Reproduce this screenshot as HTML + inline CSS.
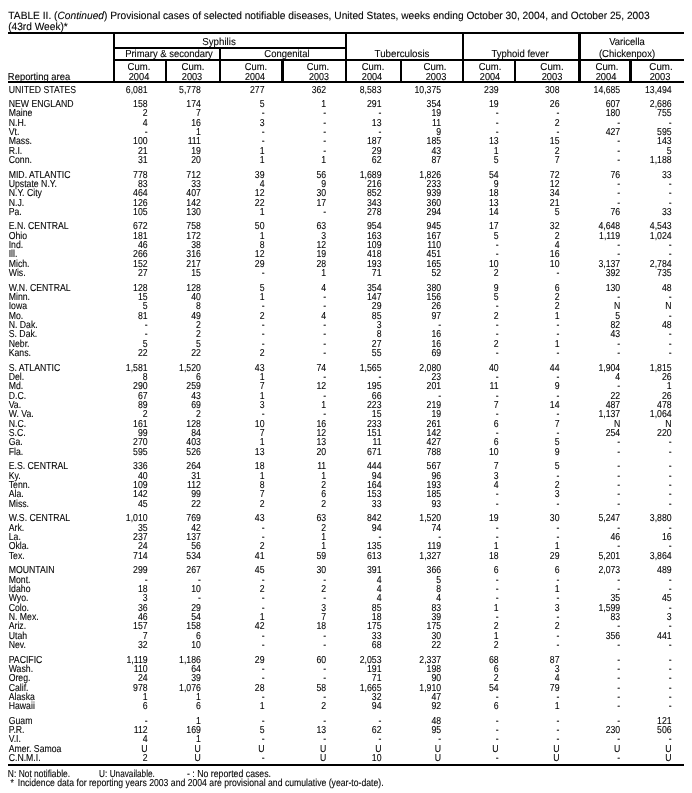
<!DOCTYPE html>
<html lang="en">
<head>
<meta charset="utf-8">
<title>TABLE II. (Continued) Provisional cases of selected notifiable diseases, United States</title>
<style>
html,body{margin:0;padding:0;background:#fff;}
body{width:692px;height:793px;position:relative;overflow:hidden;color:#000;
 font-family:"Liberation Sans",Arial,Helvetica,sans-serif;font-size:10.15px;line-height:11px;
 -webkit-text-stroke:0.1px #000;text-rendering:geometricPrecision;}
div{position:absolute;white-space:nowrap;}
.l{background:#000;}
.h{height:11px;transform:translateX(-50%) scaleX(0.936);}
.r{left:0;width:804.65px;height:11px;transform-origin:0 0;transform:scaleX(0.86);}
.r b{font-weight:normal;position:absolute;left:10.12px;top:0;}
.r i{font-style:normal;position:absolute;top:0;text-align:right;}

.c1{right:633.02px;}
.c2{right:571.05px;}
.c3{right:497.03px;}
.c4{right:425.35px;}
.c5{right:361.05px;}
.c6{right:291.74px;}
.c7{right:224.88px;}
.c8{right:154.07px;}
.c9{right:83.49px;}
.c10{right:23.66px;}
</style>
</head>
<body>
<div class="h" style="font-size:10.5px;left:329.04px;top:11px;transform:translateX(-50%) scaleX(0.9717)">TABLE II. (<em>Continued</em>) Provisional cases of selected notifiable diseases, United States, weeks ending October 30, 2004, and October 25, 2003</div>
<div class="h" style="font-size:10.5px;left:37.81px;top:22px;transform:translateX(-50%) scaleX(0.9675)">(43rd Week)*</div>
<div class="l" style="left:8px;width:676px;top:32px;height:2px"></div>
<div class="l" style="left:8px;width:676px;top:81px;height:2px"></div>
<div class="l" style="left:8px;width:676px;top:764px;height:2px"></div>
<div class="l" style="left:113px;width:233px;top:47px;height:2px"></div>
<div class="l" style="left:113px;width:571px;top:59px;height:2px"></div>
<div class="l" style="left:113px;width:2px;top:32px;height:51px"></div>
<div class="l" style="left:165px;width:2px;top:60px;height:23px"></div>
<div class="l" style="left:219px;width:2px;top:48px;height:35px"></div>
<div class="l" style="left:281px;width:3px;top:60px;height:23px"></div>
<div class="l" style="left:345px;width:2px;top:32px;height:51px"></div>
<div class="l" style="left:400px;width:2px;top:60px;height:23px"></div>
<div class="l" style="left:462px;width:2px;top:32px;height:51px"></div>
<div class="l" style="left:514px;width:2px;top:60px;height:23px"></div>
<div class="l" style="left:578px;width:3px;top:32px;height:51px"></div>
<div class="l" style="left:629px;width:3px;top:60px;height:23px"></div>
<div class="h" style="left:219.46px;top:37px;transform:translateX(-50%) scaleX(0.9603)">Syphilis</div>
<div class="h" style="left:169.43px;top:49px;transform:translateX(-50%) scaleX(0.9333)">Primary &amp; secondary</div>
<div class="h" style="left:287.07px;top:49px;transform:translateX(-50%) scaleX(0.9347)">Congenital</div>
<div class="h" style="left:402.3px;top:49px;transform:translateX(-50%) scaleX(0.9615)">Tuberculosis</div>
<div class="h" style="left:520.38px;top:49px;transform:translateX(-50%) scaleX(0.9404)">Typhoid fever</div>
<div class="h" style="left:626.74px;top:37px;transform:translateX(-50%) scaleX(0.9369)">Varicella</div>
<div class="h" style="left:627.06px;top:49px;transform:translateX(-50%) scaleX(0.9423)">(Chickenpox)</div>
<div class="h" style="left:138.6px;top:62px;transform:translateX(-50%) scaleX(0.9408)">Cum.</div>
<div class="h" style="left:138.6px;top:72px;transform:translateX(-50%) scaleX(0.9117)">2004</div>
<div class="h" style="left:192.69px;top:62px;transform:translateX(-50%) scaleX(0.9488)">Cum.</div>
<div class="h" style="left:192.42px;top:72px;transform:translateX(-50%) scaleX(0.9086)">2003</div>
<div class="h" style="left:255.67px;top:62px;transform:translateX(-50%) scaleX(0.9201)">Cum.</div>
<div class="h" style="left:255.42px;top:72px;transform:translateX(-50%) scaleX(0.8789)">2004</div>
<div class="h" style="left:318.47px;top:62px;transform:translateX(-50%) scaleX(0.9201)">Cum.</div>
<div class="h" style="left:318.52px;top:72px;transform:translateX(-50%) scaleX(0.8795)">2003</div>
<div class="h" style="left:372.62px;top:62px;transform:translateX(-50%) scaleX(0.9335)">Cum.</div>
<div class="h" style="left:372.31px;top:72px;transform:translateX(-50%) scaleX(0.9)">2004</div>
<div class="h" style="left:435.24px;top:62px;transform:translateX(-50%) scaleX(0.9533)">Cum.</div>
<div class="h" style="left:435.54px;top:72px;transform:translateX(-50%) scaleX(0.9161)">2003</div>
<div class="h" style="left:489.62px;top:62px;transform:translateX(-50%) scaleX(0.9335)">Cum.</div>
<div class="h" style="left:489.51px;top:72px;transform:translateX(-50%) scaleX(0.9)">2004</div>
<div class="h" style="left:552.49px;top:62px;transform:translateX(-50%) scaleX(0.9612)">Cum.</div>
<div class="h" style="left:552.27px;top:72px;transform:translateX(-50%) scaleX(0.9187)">2003</div>
<div class="h" style="left:606.69px;top:62px;transform:translateX(-50%) scaleX(0.9488)">Cum.</div>
<div class="h" style="left:606.21px;top:72px;transform:translateX(-50%) scaleX(0.9204)">2004</div>
<div class="h" style="left:660.69px;top:62px;transform:translateX(-50%) scaleX(0.9612)">Cum.</div>
<div class="h" style="left:660.27px;top:72px;transform:translateX(-50%) scaleX(0.9187)">2003</div>
<div class="h" style="left:38.66px;top:72px;transform:translateX(-50%) scaleX(0.9297)">Reporting area</div>
<div class="h" style="left:39.37px;top:769px;transform:translateX(-50%) scaleX(0.8318)">N: Not notifiable.</div>
<div class="h" style="left:126.64px;top:769px;transform:translateX(-50%) scaleX(0.8119)">U: Unavailable.</div>
<div class="h" style="left:229.12px;top:769px;transform:translateX(-50%) scaleX(0.8634)">- : No reported cases.</div>
<div class="h" style="left:196.6px;top:778px;transform:translateX(-50%) scaleX(0.8552)"><span style="word-spacing:1.8px">* </span>Incidence data for reporting years 2003 and 2004 are provisional and cumulative (year-to-date).</div>
<div class="r" style="top:85px"><b>UNITED STATES</b><i class="c1">6,081</i><i class="c2">5,778</i><i class="c3">277</i><i class="c4">362</i><i class="c5">8,583</i><i class="c6">10,375</i><i class="c7">239</i><i class="c8">308</i><i class="c9">14,685</i><i class="c10">13,494</i></div>
<div class="r" style="top:99px"><b>NEW ENGLAND</b><i class="c1">158</i><i class="c2">174</i><i class="c3">5</i><i class="c4">1</i><i class="c5">291</i><i class="c6">354</i><i class="c7">19</i><i class="c8">26</i><i class="c9">607</i><i class="c10">2,686</i></div>
<div class="r" style="top:108px"><b>Maine</b><i class="c1">2</i><i class="c2">7</i><i class="c3">-</i><i class="c4">-</i><i class="c5">-</i><i class="c6">19</i><i class="c7">-</i><i class="c8">-</i><i class="c9">180</i><i class="c10">755</i></div>
<div class="r" style="top:118px"><b>N.H.</b><i class="c1">4</i><i class="c2">16</i><i class="c3">3</i><i class="c4">-</i><i class="c5">13</i><i class="c6">11</i><i class="c7">-</i><i class="c8">2</i><i class="c9">-</i><i class="c10">-</i></div>
<div class="r" style="top:127px"><b>Vt.</b><i class="c1">-</i><i class="c2">1</i><i class="c3">-</i><i class="c4">-</i><i class="c5">-</i><i class="c6">9</i><i class="c7">-</i><i class="c8">-</i><i class="c9">427</i><i class="c10">595</i></div>
<div class="r" style="top:136px"><b>Mass.</b><i class="c1">100</i><i class="c2">111</i><i class="c3">-</i><i class="c4">-</i><i class="c5">187</i><i class="c6">185</i><i class="c7">13</i><i class="c8">15</i><i class="c9">-</i><i class="c10">143</i></div>
<div class="r" style="top:146px"><b>R.I.</b><i class="c1">21</i><i class="c2">19</i><i class="c3">1</i><i class="c4">-</i><i class="c5">29</i><i class="c6">43</i><i class="c7">1</i><i class="c8">2</i><i class="c9">-</i><i class="c10">5</i></div>
<div class="r" style="top:155px"><b>Conn.</b><i class="c1">31</i><i class="c2">20</i><i class="c3">1</i><i class="c4">1</i><i class="c5">62</i><i class="c6">87</i><i class="c7">5</i><i class="c8">7</i><i class="c9">-</i><i class="c10">1,188</i></div>
<div class="r" style="top:170px"><b>MID. ATLANTIC</b><i class="c1">778</i><i class="c2">712</i><i class="c3">39</i><i class="c4">56</i><i class="c5">1,689</i><i class="c6">1,826</i><i class="c7">54</i><i class="c8">72</i><i class="c9">76</i><i class="c10">33</i></div>
<div class="r" style="top:179px"><b>Upstate N.Y.</b><i class="c1">83</i><i class="c2">33</i><i class="c3">4</i><i class="c4">9</i><i class="c5">216</i><i class="c6">233</i><i class="c7">9</i><i class="c8">12</i><i class="c9">-</i><i class="c10">-</i></div>
<div class="r" style="top:188px"><b>N.Y. City</b><i class="c1">464</i><i class="c2">407</i><i class="c3">12</i><i class="c4">30</i><i class="c5">852</i><i class="c6">939</i><i class="c7">18</i><i class="c8">34</i><i class="c9">-</i><i class="c10">-</i></div>
<div class="r" style="top:198px"><b>N.J.</b><i class="c1">126</i><i class="c2">142</i><i class="c3">22</i><i class="c4">17</i><i class="c5">343</i><i class="c6">360</i><i class="c7">13</i><i class="c8">21</i><i class="c9">-</i><i class="c10">-</i></div>
<div class="r" style="top:207px"><b>Pa.</b><i class="c1">105</i><i class="c2">130</i><i class="c3">1</i><i class="c4">-</i><i class="c5">278</i><i class="c6">294</i><i class="c7">14</i><i class="c8">5</i><i class="c9">76</i><i class="c10">33</i></div>
<div class="r" style="top:221px"><b>E.N. CENTRAL</b><i class="c1">672</i><i class="c2">758</i><i class="c3">50</i><i class="c4">63</i><i class="c5">954</i><i class="c6">945</i><i class="c7">17</i><i class="c8">32</i><i class="c9">4,648</i><i class="c10">4,543</i></div>
<div class="r" style="top:231px"><b>Ohio</b><i class="c1">181</i><i class="c2">172</i><i class="c3">1</i><i class="c4">3</i><i class="c5">163</i><i class="c6">167</i><i class="c7">5</i><i class="c8">2</i><i class="c9">1,119</i><i class="c10">1,024</i></div>
<div class="r" style="top:240px"><b>Ind.</b><i class="c1">46</i><i class="c2">38</i><i class="c3">8</i><i class="c4">12</i><i class="c5">109</i><i class="c6">110</i><i class="c7">-</i><i class="c8">4</i><i class="c9">-</i><i class="c10">-</i></div>
<div class="r" style="top:249px"><b>Ill.</b><i class="c1">266</i><i class="c2">316</i><i class="c3">12</i><i class="c4">19</i><i class="c5">418</i><i class="c6">451</i><i class="c7">-</i><i class="c8">16</i><i class="c9">-</i><i class="c10">-</i></div>
<div class="r" style="top:259px"><b>Mich.</b><i class="c1">152</i><i class="c2">217</i><i class="c3">29</i><i class="c4">28</i><i class="c5">193</i><i class="c6">165</i><i class="c7">10</i><i class="c8">10</i><i class="c9">3,137</i><i class="c10">2,784</i></div>
<div class="r" style="top:268px"><b>Wis.</b><i class="c1">27</i><i class="c2">15</i><i class="c3">-</i><i class="c4">1</i><i class="c5">71</i><i class="c6">52</i><i class="c7">2</i><i class="c8">-</i><i class="c9">392</i><i class="c10">735</i></div>
<div class="r" style="top:283px"><b>W.N. CENTRAL</b><i class="c1">128</i><i class="c2">128</i><i class="c3">5</i><i class="c4">4</i><i class="c5">354</i><i class="c6">380</i><i class="c7">9</i><i class="c8">6</i><i class="c9">130</i><i class="c10">48</i></div>
<div class="r" style="top:292px"><b>Minn.</b><i class="c1">15</i><i class="c2">40</i><i class="c3">1</i><i class="c4">-</i><i class="c5">147</i><i class="c6">156</i><i class="c7">5</i><i class="c8">2</i><i class="c9">-</i><i class="c10">-</i></div>
<div class="r" style="top:301px"><b>Iowa</b><i class="c1">5</i><i class="c2">8</i><i class="c3">-</i><i class="c4">-</i><i class="c5">29</i><i class="c6">26</i><i class="c7">-</i><i class="c8">2</i><i class="c9">N</i><i class="c10">N</i></div>
<div class="r" style="top:311px"><b>Mo.</b><i class="c1">81</i><i class="c2">49</i><i class="c3">2</i><i class="c4">4</i><i class="c5">85</i><i class="c6">97</i><i class="c7">2</i><i class="c8">1</i><i class="c9">5</i><i class="c10">-</i></div>
<div class="r" style="top:320px"><b>N. Dak.</b><i class="c1">-</i><i class="c2">2</i><i class="c3">-</i><i class="c4">-</i><i class="c5">3</i><i class="c6">-</i><i class="c7">-</i><i class="c8">-</i><i class="c9">82</i><i class="c10">48</i></div>
<div class="r" style="top:329px"><b>S. Dak.</b><i class="c1">-</i><i class="c2">2</i><i class="c3">-</i><i class="c4">-</i><i class="c5">8</i><i class="c6">16</i><i class="c7">-</i><i class="c8">-</i><i class="c9">43</i><i class="c10">-</i></div>
<div class="r" style="top:339px"><b>Nebr.</b><i class="c1">5</i><i class="c2">5</i><i class="c3">-</i><i class="c4">-</i><i class="c5">27</i><i class="c6">16</i><i class="c7">2</i><i class="c8">1</i><i class="c9">-</i><i class="c10">-</i></div>
<div class="r" style="top:348px"><b>Kans.</b><i class="c1">22</i><i class="c2">22</i><i class="c3">2</i><i class="c4">-</i><i class="c5">55</i><i class="c6">69</i><i class="c7">-</i><i class="c8">-</i><i class="c9">-</i><i class="c10">-</i></div>
<div class="r" style="top:363px"><b>S. ATLANTIC</b><i class="c1">1,581</i><i class="c2">1,520</i><i class="c3">43</i><i class="c4">74</i><i class="c5">1,565</i><i class="c6">2,080</i><i class="c7">40</i><i class="c8">44</i><i class="c9">1,904</i><i class="c10">1,815</i></div>
<div class="r" style="top:372px"><b>Del.</b><i class="c1">8</i><i class="c2">6</i><i class="c3">1</i><i class="c4">-</i><i class="c5">-</i><i class="c6">23</i><i class="c7">-</i><i class="c8">-</i><i class="c9">4</i><i class="c10">26</i></div>
<div class="r" style="top:381px"><b>Md.</b><i class="c1">290</i><i class="c2">259</i><i class="c3">7</i><i class="c4">12</i><i class="c5">195</i><i class="c6">201</i><i class="c7">11</i><i class="c8">9</i><i class="c9">-</i><i class="c10">1</i></div>
<div class="r" style="top:391px"><b>D.C.</b><i class="c1">67</i><i class="c2">43</i><i class="c3">1</i><i class="c4">-</i><i class="c5">66</i><i class="c6">-</i><i class="c7">-</i><i class="c8">-</i><i class="c9">22</i><i class="c10">26</i></div>
<div class="r" style="top:400px"><b>Va.</b><i class="c1">89</i><i class="c2">69</i><i class="c3">3</i><i class="c4">1</i><i class="c5">223</i><i class="c6">219</i><i class="c7">7</i><i class="c8">14</i><i class="c9">487</i><i class="c10">478</i></div>
<div class="r" style="top:409px"><b>W. Va.</b><i class="c1">2</i><i class="c2">2</i><i class="c3">-</i><i class="c4">-</i><i class="c5">15</i><i class="c6">19</i><i class="c7">-</i><i class="c8">-</i><i class="c9">1,137</i><i class="c10">1,064</i></div>
<div class="r" style="top:419px"><b>N.C.</b><i class="c1">161</i><i class="c2">128</i><i class="c3">10</i><i class="c4">16</i><i class="c5">233</i><i class="c6">261</i><i class="c7">6</i><i class="c8">7</i><i class="c9">N</i><i class="c10">N</i></div>
<div class="r" style="top:428px"><b>S.C.</b><i class="c1">99</i><i class="c2">84</i><i class="c3">7</i><i class="c4">12</i><i class="c5">151</i><i class="c6">142</i><i class="c7">-</i><i class="c8">-</i><i class="c9">254</i><i class="c10">220</i></div>
<div class="r" style="top:437px"><b>Ga.</b><i class="c1">270</i><i class="c2">403</i><i class="c3">1</i><i class="c4">13</i><i class="c5">11</i><i class="c6">427</i><i class="c7">6</i><i class="c8">5</i><i class="c9">-</i><i class="c10">-</i></div>
<div class="r" style="top:447px"><b>Fla.</b><i class="c1">595</i><i class="c2">526</i><i class="c3">13</i><i class="c4">20</i><i class="c5">671</i><i class="c6">788</i><i class="c7">10</i><i class="c8">9</i><i class="c9">-</i><i class="c10">-</i></div>
<div class="r" style="top:461px"><b>E.S. CENTRAL</b><i class="c1">336</i><i class="c2">264</i><i class="c3">18</i><i class="c4">11</i><i class="c5">444</i><i class="c6">567</i><i class="c7">7</i><i class="c8">5</i><i class="c9">-</i><i class="c10">-</i></div>
<div class="r" style="top:471px"><b>Ky.</b><i class="c1">40</i><i class="c2">31</i><i class="c3">1</i><i class="c4">1</i><i class="c5">94</i><i class="c6">96</i><i class="c7">3</i><i class="c8">-</i><i class="c9">-</i><i class="c10">-</i></div>
<div class="r" style="top:480px"><b>Tenn.</b><i class="c1">109</i><i class="c2">112</i><i class="c3">8</i><i class="c4">2</i><i class="c5">164</i><i class="c6">193</i><i class="c7">4</i><i class="c8">2</i><i class="c9">-</i><i class="c10">-</i></div>
<div class="r" style="top:489px"><b>Ala.</b><i class="c1">142</i><i class="c2">99</i><i class="c3">7</i><i class="c4">6</i><i class="c5">153</i><i class="c6">185</i><i class="c7">-</i><i class="c8">3</i><i class="c9">-</i><i class="c10">-</i></div>
<div class="r" style="top:499px"><b>Miss.</b><i class="c1">45</i><i class="c2">22</i><i class="c3">2</i><i class="c4">2</i><i class="c5">33</i><i class="c6">93</i><i class="c7">-</i><i class="c8">-</i><i class="c9">-</i><i class="c10">-</i></div>
<div class="r" style="top:513px"><b>W.S. CENTRAL</b><i class="c1">1,010</i><i class="c2">769</i><i class="c3">43</i><i class="c4">63</i><i class="c5">842</i><i class="c6">1,520</i><i class="c7">19</i><i class="c8">30</i><i class="c9">5,247</i><i class="c10">3,880</i></div>
<div class="r" style="top:523px"><b>Ark.</b><i class="c1">35</i><i class="c2">42</i><i class="c3">-</i><i class="c4">2</i><i class="c5">94</i><i class="c6">74</i><i class="c7">-</i><i class="c8">-</i><i class="c9">-</i><i class="c10">-</i></div>
<div class="r" style="top:532px"><b>La.</b><i class="c1">237</i><i class="c2">137</i><i class="c3">-</i><i class="c4">1</i><i class="c5">-</i><i class="c6">-</i><i class="c7">-</i><i class="c8">-</i><i class="c9">46</i><i class="c10">16</i></div>
<div class="r" style="top:541px"><b>Okla.</b><i class="c1">24</i><i class="c2">56</i><i class="c3">2</i><i class="c4">1</i><i class="c5">135</i><i class="c6">119</i><i class="c7">1</i><i class="c8">1</i><i class="c9">-</i><i class="c10">-</i></div>
<div class="r" style="top:551px"><b>Tex.</b><i class="c1">714</i><i class="c2">534</i><i class="c3">41</i><i class="c4">59</i><i class="c5">613</i><i class="c6">1,327</i><i class="c7">18</i><i class="c8">29</i><i class="c9">5,201</i><i class="c10">3,864</i></div>
<div class="r" style="top:565px"><b>MOUNTAIN</b><i class="c1">299</i><i class="c2">267</i><i class="c3">45</i><i class="c4">30</i><i class="c5">391</i><i class="c6">366</i><i class="c7">6</i><i class="c8">6</i><i class="c9">2,073</i><i class="c10">489</i></div>
<div class="r" style="top:575px"><b>Mont.</b><i class="c1">-</i><i class="c2">-</i><i class="c3">-</i><i class="c4">-</i><i class="c5">4</i><i class="c6">5</i><i class="c7">-</i><i class="c8">-</i><i class="c9">-</i><i class="c10">-</i></div>
<div class="r" style="top:584px"><b>Idaho</b><i class="c1">18</i><i class="c2">10</i><i class="c3">2</i><i class="c4">2</i><i class="c5">4</i><i class="c6">8</i><i class="c7">-</i><i class="c8">1</i><i class="c9">-</i><i class="c10">-</i></div>
<div class="r" style="top:593px"><b>Wyo.</b><i class="c1">3</i><i class="c2">-</i><i class="c3">-</i><i class="c4">-</i><i class="c5">4</i><i class="c6">4</i><i class="c7">-</i><i class="c8">-</i><i class="c9">35</i><i class="c10">45</i></div>
<div class="r" style="top:603px"><b>Colo.</b><i class="c1">36</i><i class="c2">29</i><i class="c3">-</i><i class="c4">3</i><i class="c5">85</i><i class="c6">83</i><i class="c7">1</i><i class="c8">3</i><i class="c9">1,599</i><i class="c10">-</i></div>
<div class="r" style="top:612px"><b>N. Mex.</b><i class="c1">46</i><i class="c2">54</i><i class="c3">1</i><i class="c4">7</i><i class="c5">18</i><i class="c6">39</i><i class="c7">-</i><i class="c8">-</i><i class="c9">83</i><i class="c10">3</i></div>
<div class="r" style="top:621px"><b>Ariz.</b><i class="c1">157</i><i class="c2">158</i><i class="c3">42</i><i class="c4">18</i><i class="c5">175</i><i class="c6">175</i><i class="c7">2</i><i class="c8">2</i><i class="c9">-</i><i class="c10">-</i></div>
<div class="r" style="top:631px"><b>Utah</b><i class="c1">7</i><i class="c2">6</i><i class="c3">-</i><i class="c4">-</i><i class="c5">33</i><i class="c6">30</i><i class="c7">1</i><i class="c8">-</i><i class="c9">356</i><i class="c10">441</i></div>
<div class="r" style="top:640px"><b>Nev.</b><i class="c1">32</i><i class="c2">10</i><i class="c3">-</i><i class="c4">-</i><i class="c5">68</i><i class="c6">22</i><i class="c7">2</i><i class="c8">-</i><i class="c9">-</i><i class="c10">-</i></div>
<div class="r" style="top:655px"><b>PACIFIC</b><i class="c1">1,119</i><i class="c2">1,186</i><i class="c3">29</i><i class="c4">60</i><i class="c5">2,053</i><i class="c6">2,337</i><i class="c7">68</i><i class="c8">87</i><i class="c9">-</i><i class="c10">-</i></div>
<div class="r" style="top:664px"><b>Wash.</b><i class="c1">110</i><i class="c2">64</i><i class="c3">-</i><i class="c4">-</i><i class="c5">191</i><i class="c6">198</i><i class="c7">6</i><i class="c8">3</i><i class="c9">-</i><i class="c10">-</i></div>
<div class="r" style="top:673px"><b>Oreg.</b><i class="c1">24</i><i class="c2">39</i><i class="c3">-</i><i class="c4">-</i><i class="c5">71</i><i class="c6">90</i><i class="c7">2</i><i class="c8">4</i><i class="c9">-</i><i class="c10">-</i></div>
<div class="r" style="top:683px"><b>Calif.</b><i class="c1">978</i><i class="c2">1,076</i><i class="c3">28</i><i class="c4">58</i><i class="c5">1,665</i><i class="c6">1,910</i><i class="c7">54</i><i class="c8">79</i><i class="c9">-</i><i class="c10">-</i></div>
<div class="r" style="top:692px"><b>Alaska</b><i class="c1">1</i><i class="c2">1</i><i class="c3">-</i><i class="c4">-</i><i class="c5">32</i><i class="c6">47</i><i class="c7">-</i><i class="c8">-</i><i class="c9">-</i><i class="c10">-</i></div>
<div class="r" style="top:701px"><b>Hawaii</b><i class="c1">6</i><i class="c2">6</i><i class="c3">1</i><i class="c4">2</i><i class="c5">94</i><i class="c6">92</i><i class="c7">6</i><i class="c8">1</i><i class="c9">-</i><i class="c10">-</i></div>
<div class="r" style="top:716px"><b>Guam</b><i class="c1">-</i><i class="c2">1</i><i class="c3">-</i><i class="c4">-</i><i class="c5">-</i><i class="c6">48</i><i class="c7">-</i><i class="c8">-</i><i class="c9">-</i><i class="c10">121</i></div>
<div class="r" style="top:725px"><b>P.R.</b><i class="c1">112</i><i class="c2">169</i><i class="c3">5</i><i class="c4">13</i><i class="c5">62</i><i class="c6">95</i><i class="c7">-</i><i class="c8">-</i><i class="c9">230</i><i class="c10">506</i></div>
<div class="r" style="top:734px"><b>V.I.</b><i class="c1">4</i><i class="c2">1</i><i class="c3">-</i><i class="c4">-</i><i class="c5">-</i><i class="c6">-</i><i class="c7">-</i><i class="c8">-</i><i class="c9">-</i><i class="c10">-</i></div>
<div class="r" style="top:744px"><b>Amer. Samoa</b><i class="c1">U</i><i class="c2">U</i><i class="c3">U</i><i class="c4">U</i><i class="c5">U</i><i class="c6">U</i><i class="c7">U</i><i class="c8">U</i><i class="c9">U</i><i class="c10">U</i></div>
<div class="r" style="top:753px"><b>C.N.M.I.</b><i class="c1">2</i><i class="c2">U</i><i class="c3">-</i><i class="c4">U</i><i class="c5">10</i><i class="c6">U</i><i class="c7">-</i><i class="c8">U</i><i class="c9">-</i><i class="c10">U</i></div>
</body>
</html>
